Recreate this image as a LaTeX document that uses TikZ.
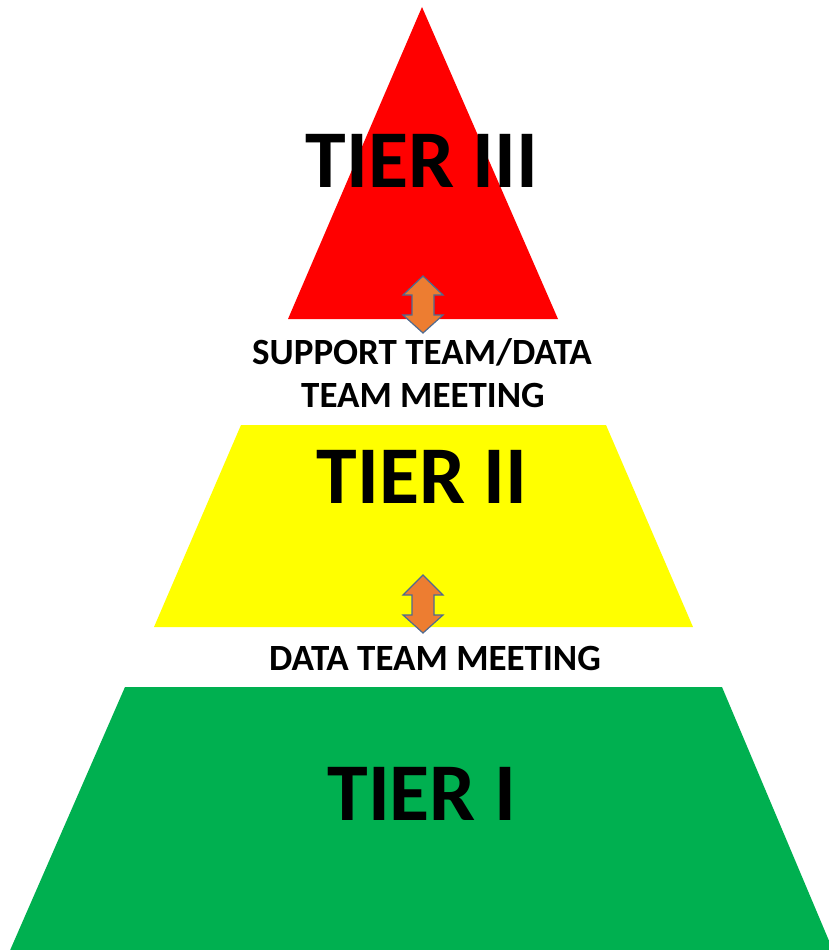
\documentclass[tikz,border=0pt]{standalone}
\usepackage{fontspec}
\setmainfont{Carlito}
\definecolor{tred}{HTML}{FF0000}
\definecolor{tyellow}{HTML}{FFFF00}
\definecolor{tgreen}{HTML}{00B050}
\definecolor{arrfill}{HTML}{ED7D31}
\definecolor{arrline}{HTML}{4F6A8F}
\begin{document}
\begin{tikzpicture}[x=1pt,y=-1pt,
  tier/.style={font=\fontsize{82}{90}\selectfont\bfseries, inner sep=0pt, anchor=base},
  meet/.style={font=\fontsize{37}{43}\selectfont\bfseries, inner sep=0pt, anchor=base},
  dblarrow/.style={fill=arrfill, draw=arrline, line width=1.2pt, line join=miter}]
\useasboundingbox (0,0) rectangle (829,950);
\clip (0,0) rectangle (829,950);
\fill[white] (0,0) rectangle (829,950);
% shapes
\fill[tred] (422,7) -- (558,319) -- (288,319) -- cycle;
\fill[tyellow] (241,425) -- (606,425) -- (693,627) -- (154,627) -- cycle;
\fill[tgreen] (125,687) -- (722,687) -- (835,955) -- (8,955) -- cycle;
% arrows
\draw[dblarrow] (423,276) -- (443,295) -- (434,295) -- (434,315) -- (443,315) -- (423,333)
  -- (403,315) -- (412,315) -- (412,295) -- (403,295) -- cycle;
\draw[dblarrow] (423,575) -- (443,595) -- (434,595) -- (434,615) -- (443,615) -- (423,633)
  -- (403,615) -- (412,615) -- (412,595) -- (403,595) -- cycle;
% texts
\node[tier] (t3) at (422,187) {TIER III};
\node[tier] (t2) at (422,503) {TIER II};
\node[tier] (t1) at (422,820) {TIER I};
\node[meet] (m1) at (422,364) {SUPPORT TEAM/DATA};
\node[meet] (m2) at (423,407) {TEAM MEETING};
\node[meet] (m3) at (435,670) {DATA TEAM MEETING};
\end{tikzpicture}
\end{document}
